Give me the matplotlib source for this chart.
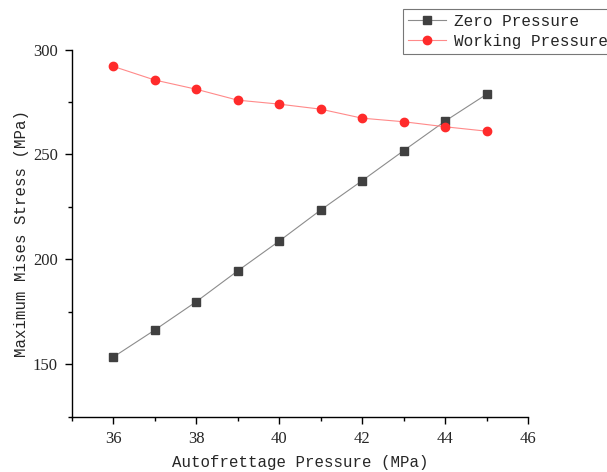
import matplotlib.pyplot as plt
from matplotlib.ticker import MultipleLocator

# datos
pressure = [36, 37, 38, 39, 40, 41, 42, 43, 44, 45]
zero_pressure = [153.4, 166.3, 179.8, 194.5, 208.7, 223.5, 237.5, 251.8, 265.9, 278.7]
working_pressure = [292.0, 285.5, 281.1, 275.9, 274.0, 271.6, 267.3, 265.6, 263.2, 261.1]

label_font = 'Liberation Mono'
tick_font = 'Liberation Serif'
text_color = '#262626'

fig = plt.figure(figsize=(6.07, 4.72), dpi=100)
ax = fig.add_axes([0.118, 0.117, 0.752, 0.778])

ax.plot(pressure, zero_pressure, color='#8c8c8c', lw=0.8,
        marker='s', markersize=5.5, markerfacecolor='#404040',
        markeredgecolor='#404040', label='Zero Pressure')
ax.plot(pressure, working_pressure, color='#ff8a8a', lw=0.8,
        marker='o', markersize=6, markerfacecolor='#ff2b2b',
        markeredgecolor='#ff2b2b', label='Working Pressure')

# Configuración de los ejes
ax.set_xlim(35, 46)
ax.set_ylim(125, 300)
ax.xaxis.set_major_locator(MultipleLocator(2))
ax.xaxis.set_minor_locator(MultipleLocator(1))
ax.yaxis.set_major_locator(MultipleLocator(50))
ax.yaxis.set_minor_locator(MultipleLocator(25))
ax.spines['top'].set_visible(False)
ax.spines['right'].set_visible(False)
for s in ['left', 'bottom']:
    ax.spines[s].set_linewidth(1.0)
ax.tick_params(which='major', direction='out', length=5, width=1,
               labelsize=12, pad=5, labelcolor=text_color)
ax.tick_params(which='minor', direction='out', length=3, width=1)
for lab in ax.get_xticklabels() + ax.get_yticklabels():
    lab.set_fontfamily(tick_font)

ax.set_xlabel('Autofrettage Pressure (MPa)', fontfamily=label_font,
              fontsize=11.3, labelpad=6, color=text_color)
ax.set_ylabel('Maximum Mises Stress (MPa)', fontfamily=label_font,
              fontsize=11.3, labelpad=3, color=text_color)

leg = fig.legend(loc='upper left', bbox_to_anchor=(0.664, 0.981),
                 prop={'family': label_font, 'size': 11.5},
                 frameon=True, fancybox=False, handlelength=2.4,
                 handletextpad=0.5, borderpad=0.3, labelspacing=0.32,
                 borderaxespad=0)
leg.get_frame().set_edgecolor('#555555')
leg.get_frame().set_linewidth(0.8)
for t in leg.get_texts():
    t.set_color(text_color)

plt.savefig('out.png', dpi=100)
